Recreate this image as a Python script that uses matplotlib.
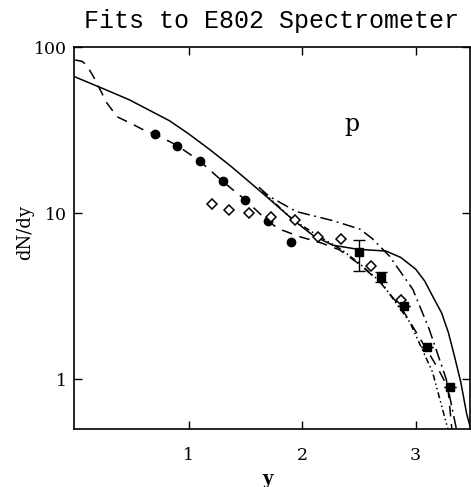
import matplotlib
matplotlib.use("Agg")
import matplotlib.pyplot as plt

# ---- data ----
circ_x = [0.7, 0.9, 1.1, 1.3, 1.5, 1.7, 1.9]
circ_y = [30.0, 25.5, 20.5, 15.5, 12.0, 8.9, 6.7]

diam_x = [1.21, 1.36, 1.53, 1.73, 1.94, 2.14, 2.34, 2.61, 2.87]
diam_y = [11.4, 10.4, 10.0, 9.4, 9.1, 7.2, 7.0, 4.8, 3.0]

sq_x = [2.5, 2.7, 2.9, 3.1, 3.3]
sq_y = [5.8, 4.1, 2.75, 1.56, 0.89]
sq_lo = [1.3, 0.25, 0.0, 0.0, 0.0]
sq_hi = [1.1, 0.3, 0.0, 0.0, 0.0]

solid_x = [0.0, 0.25, 0.48, 0.83, 1.0, 1.19, 1.37, 1.54, 1.69, 1.92, 2.1, 2.27,
           2.49, 2.74, 2.87, 3.0, 3.08, 3.15, 3.23, 3.29, 3.34, 3.40, 3.45, 3.48]
solid_y = [66, 56, 48, 36, 30, 24, 19.2, 15.3, 12.5, 9.1, 7.3, 6.4,
           6.05, 5.9, 5.4, 4.6, 3.9, 3.16, 2.5, 1.9, 1.4, 0.95, 0.62, 0.52]

dash_x = [0.0, 0.06, 0.10, 0.163, 0.28, 0.37, 0.486, 0.63, 0.7, 0.9, 1.1, 1.3, 1.5,
          1.7, 1.8, 1.98, 2.17, 2.33, 2.49, 2.685, 2.88, 3.085, 3.2, 3.285, 3.32]
dash_y = [83.5, 82, 78, 66, 46, 38, 34.8, 31.0, 30.0, 25.5, 20.5, 15.5, 12.0,
          8.9, 8.0, 7.2, 6.6, 6.0, 5.0, 3.85, 2.65, 1.56, 1.15, 0.89, 0.5]

dashdot_x = [1.62, 1.71, 1.95, 2.27, 2.51, 2.62, 2.77, 2.976, 3.12, 3.27, 3.36]
dashdot_y = [14.3, 12.6, 10.2, 9.0, 8.0, 7.0, 5.5, 3.47, 2.0, 1.0, 0.5]

dd_x = [1.65, 1.92, 2.14, 2.35, 2.5, 2.7, 2.95, 3.15, 3.285]
dd_y = [13.5, 9.1, 7.3, 6.0, 5.0, 3.8, 2.2, 1.1, 0.5]

xticks = [1, 2, 3]
yticks = [1, 10, 100]
ytick_labels = ["1", "10", "100"]

# ---- figure ----
fig = plt.figure(figsize=(4.71, 4.87), dpi=100)
ax = fig.add_axes([74 / 471, 58 / 487, 396 / 471, 382 / 487])

lw = 1.1
ax.plot(solid_x, solid_y, color="black", lw=lw, ls="-")
ax.plot(dash_x, dash_y, color="black", lw=lw, ls=(0, (7, 5)))
ax.plot(dashdot_x, dashdot_y, color="black", lw=lw, ls=(0, (8, 3, 1.2, 3)))
ax.plot(dd_x, dd_y, color="black", lw=lw, ls=(0, (4, 2, 1, 2, 1, 2)))

ax.plot(circ_x, circ_y, "o", color="black", ms=6)
ax.plot(diam_x, diam_y, "D", mfc="white", mec="black", mew=1.1, ms=5)
ax.errorbar(sq_x, sq_y, yerr=[sq_lo, sq_hi], fmt="s", color="black", ms=5.5,
            capsize=4, elinewidth=1, capthick=1)

ax.set_yscale("log")
ax.set_xlim(-0.01, 3.48)
ax.set_ylim(0.5, 100)
ax.set_xticks(xticks)
ax.set_xticklabels([str(t) for t in xticks])
ax.set_yticks(yticks)
ax.set_yticklabels(ytick_labels)
ax.minorticks_off()

ax.tick_params(direction="in", length=6, width=1, top=True, right=True,
               labelsize=12.5)
ax.tick_params(axis="x", pad=13)
ax.tick_params(axis="y", pad=5)
for lab in ax.get_xticklabels() + ax.get_yticklabels():
    lab.set_family("DejaVu Serif")
for sp in ax.spines.values():
    sp.set_linewidth(1.2)

ax.text(2.44, 34, "p", fontsize=17, family="DejaVu Serif", ha="center", va="center")

fig.text(271 / 471, 1 - 21 / 487, "Fits to E802 Spectrometer", fontsize=18,
         family="Liberation Mono", ha="center", va="center")
fig.text(268 / 471, 1 - 479 / 487, "y", fontsize=13, family="DejaVu Serif",
         fontweight="bold", ha="center", va="center")
fig.text(25 / 471, 1 - 232 / 487, "dN/dy", fontsize=13, family="DejaVu Serif",
         rotation=90, ha="center", va="center")

fig.savefig("out.png", dpi=100)
